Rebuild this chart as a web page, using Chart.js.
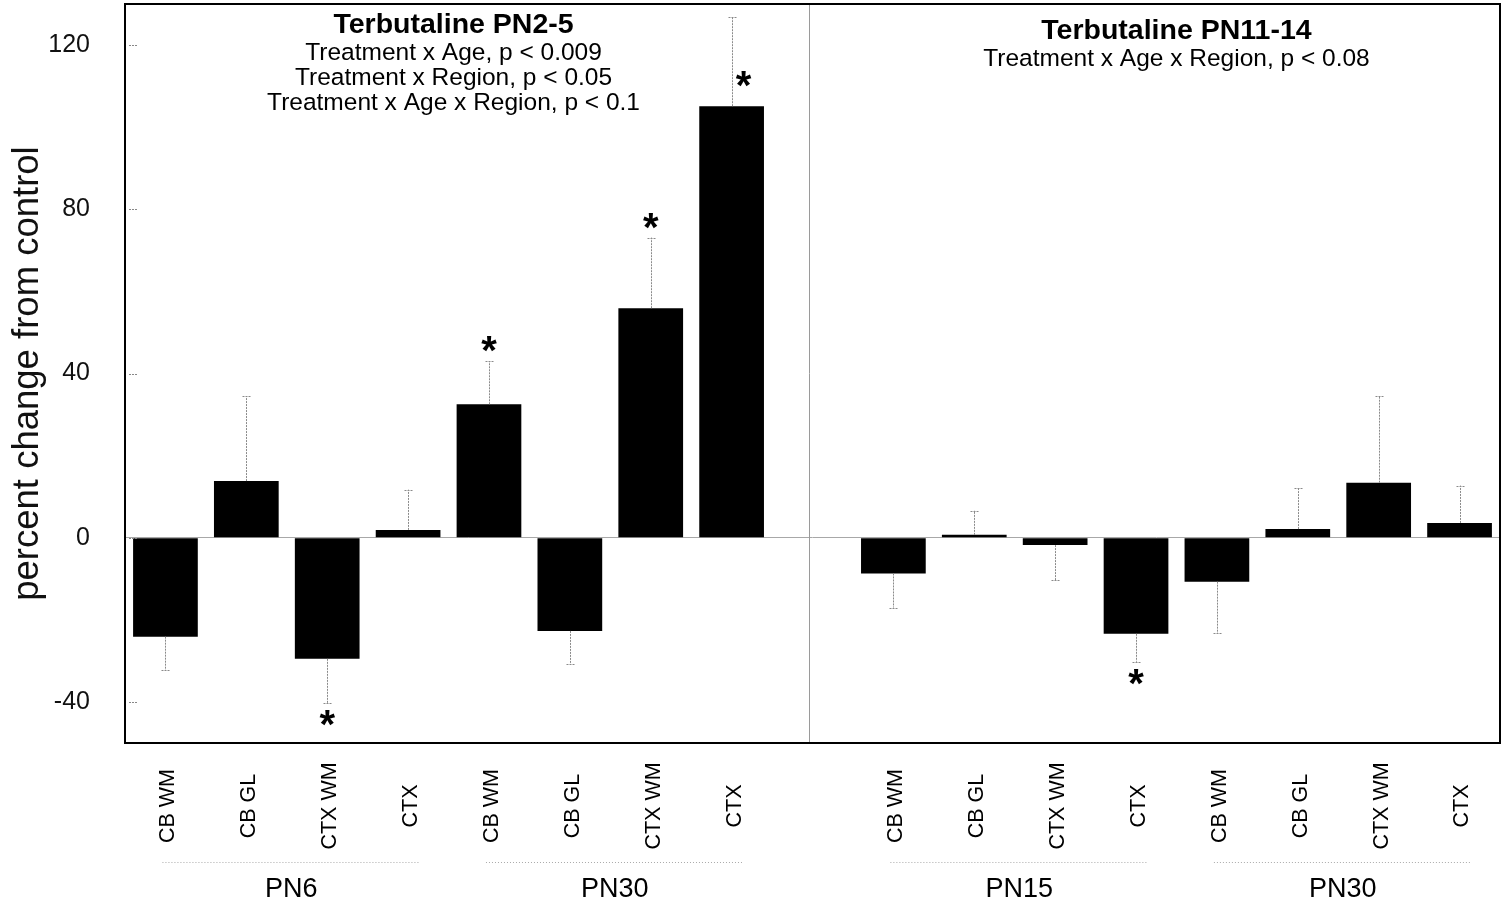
<!DOCTYPE html>
<html>
<head>
<meta charset="utf-8">
<script src="https://cdn.jsdelivr.net/npm/chart.js@4.4.0/dist/chart.umd.min.js"></script>
<style>
  html, body { margin: 0; padding: 0; background: #fff; }
  #wrap { width: 1509px; height: 909px; }
</style>
</head>
<body>
<div id="wrap"><canvas id="chart"></canvas></div>
<script>
// slot 8 is the empty gap between the two panels
const categories = ['CB WM', 'CB GL', 'CTX WM', 'CTX', 'CB WM', 'CB GL', 'CTX WM', 'CTX', '',
                    'CB WM', 'CB GL', 'CTX WM', 'CTX', 'CB WM', 'CB GL', 'CTX WM', 'CTX'];
const values = [-24.1, 13.8, -29.5, 1.9, 32.5, -22.7, 55.9, 105.1, null,
                -8.7, 0.7, -1.8, -23.4, -10.7, 2.1, 13.4, 3.6];
const errors = [8.1, 20.7, 10.8, 9.8, 10.5, 8.1, 17.2, 21.8, null,
                8.3, 5.9, 8.5, 6.8, 12.6, 9.9, 21.1, 9.1];
const yTicks = [-40, 0, 40, 80, 120];

const groupNames = ['PN6', 'PN30', 'PN15', 'PN30'];
const groupFirst = [0, 4, 9, 13];
const groupLast = [3, 7, 12, 16];

const starIdx = [2, 4, 6, 12];   // asterisk past the end of the error bar
const starSideIdx = [7];         // asterisk beside the error bar
const dividerIdx = 8;

const panelTitles = ['Terbutaline PN2-5', 'Terbutaline PN11-14'];
const panelNotes = [
  ['Treatment x Age, p < 0.009', 'Treatment x Region, p < 0.05', 'Treatment x Age x Region, p < 0.1'],
  ['Treatment x Age x Region, p < 0.08']
];
const panelCenter = [[3, 4], [12, 13]];

const FONT = '"Liberation Sans", Arial, Helvetica, sans-serif';
Chart.defaults.font.family = FONT;
Chart.defaults.color = '#111';

const extras = {
  id: 'extras',
  afterDatasetsDraw(chart) {
    const ctx = chart.ctx;
    const x = chart.scales.x, y = chart.scales.y;
    const area = chart.chartArea;

    ctx.save();
    // divider between panels
    ctx.strokeStyle = '#9a9a9a';
    ctx.lineWidth = 1;
    const dx = Math.round(x.getPixelForValue(dividerIdx)) - 3.5;
    ctx.beginPath(); ctx.moveTo(dx, area.top); ctx.lineTo(dx, area.bottom); ctx.stroke();

    // error bars
    ctx.strokeStyle = '#8a8a8a';
    ctx.setLineDash([2, 1]);
    values.forEach((v, i) => {
      if (v === null) return;
      const px = Math.round(x.getPixelForValue(i)) + 0.5;
      const end = v >= 0 ? v + errors[i] : v - errors[i];
      const y0 = y.getPixelForValue(v), y1 = y.getPixelForValue(end);
      ctx.beginPath(); ctx.moveTo(px, y0); ctx.lineTo(px, y1); ctx.stroke();
      ctx.beginPath(); ctx.moveTo(px - 4, Math.round(y1) + 0.5); ctx.lineTo(px + 4, Math.round(y1) + 0.5); ctx.stroke();
    });

    // inner y tick marks
    ctx.strokeStyle = '#888';
    yTicks.forEach(t => {
      const py = Math.round(y.getPixelForValue(t)) + 0.5;
      ctx.beginPath(); ctx.moveTo(area.left + 4, py); ctx.lineTo(area.left + 12, py); ctx.stroke();
    });
    ctx.setLineDash([]);

    // plot frame
    ctx.strokeStyle = '#000';
    ctx.lineWidth = 2;
    ctx.strokeRect(area.left, area.top, area.right - area.left, area.bottom - area.top);

    // asterisks
    ctx.fillStyle = '#000';
    ctx.font = 'bold 40px ' + FONT;
    ctx.textAlign = 'center';
    ctx.textBaseline = 'alphabetic';
    const m = ctx.measureText('*');
    const mid = (m.actualBoundingBoxAscent - m.actualBoundingBoxDescent) / 2;
    starIdx.forEach(i => {
      const v = values[i];
      const end = v >= 0 ? v + errors[i] : v - errors[i];
      const cy = y.getPixelForValue(end) + (v >= 0 ? -17 : 15);
      ctx.fillText('*', x.getPixelForValue(i), cy + mid);
    });
    starSideIdx.forEach(i => {
      const cy = y.getPixelForValue(values[i]) - 27;
      ctx.fillText('*', x.getPixelForValue(i) + 12, cy + mid);
    });

    // panel titles
    panelTitles.forEach((t, p) => {
      const cx = (x.getPixelForValue(panelCenter[p][0]) + x.getPixelForValue(panelCenter[p][1])) / 2 + (p === 0 ? 5 : 0);
      const base = p === 0 ? 33 : 39;
      ctx.font = 'bold 28.5px ' + FONT;
      ctx.fillText(t, cx, base);
      ctx.font = '24.5px ' + FONT;
      panelNotes[p].forEach((line, k) => ctx.fillText(line, cx, base + 27 + k * 25));
    });

    // rotated category labels
    ctx.font = '21.5px ' + FONT;
    ctx.textBaseline = 'middle';
    categories.forEach((c, i) => {
      if (!c) return;
      ctx.save();
      ctx.translate(x.getPixelForValue(i) + 3, 806);
      ctx.rotate(-Math.PI / 2);
      ctx.fillText(c, 0, 0);
      ctx.restore();
    });

    // group underlines and names
    ctx.font = '27px ' + FONT;
    groupNames.forEach((g, k) => {
      const a = x.getPixelForValue(groupFirst[k]) - 3;
      const b = x.getPixelForValue(groupLast[k]) + 12;
      ctx.strokeStyle = '#aaa';
      ctx.lineWidth = 1;
      ctx.setLineDash([1, 2]);
      ctx.beginPath(); ctx.moveTo(a, 862.5); ctx.lineTo(b, 862.5); ctx.stroke();
      ctx.setLineDash([]);
      ctx.fillText(g, (a + b) / 2, 890);
    });
    ctx.restore();
  }
};

new Chart(document.getElementById('chart'), {
  type: 'bar',
  data: {
    labels: categories,
    datasets: [{
      data: values,
      backgroundColor: '#000',
      borderWidth: 0,
      barPercentage: 0.8,
      categoryPercentage: 1.0
    }]
  },
  plugins: [extras],
  options: {
    responsive: true,
    maintainAspectRatio: false,
    animation: false,
    layout: { padding: { top: 4, right: 9, bottom: 0, left: 0 } },
    plugins: { legend: { display: false }, tooltip: { enabled: false } },
    scales: {
      x: {
        grid: { display: false },
        border: { display: false },
        ticks: { display: false },
        afterFit(s) { s.height = 166; }
      },
      y: {
        min: -50,
        max: 130,
        afterBuildTicks(s) { s.ticks = yTicks.map(v => ({ value: v })); },
        afterFit(s) { s.width = 125; s.paddingTop = 0; s.paddingBottom = 0; },
        border: { display: false },
        grid: {
          drawTicks: false,
          color: c => (c.tick && c.tick.value === 0 ? '#a8a8a8' : 'rgba(0,0,0,0)'),
          lineWidth: 1
        },
        ticks: { padding: 35, font: { size: 25 }, color: '#111' },
        title: {
          display: true,
          text: 'percent change from control',
          font: { size: 36.5 },
          color: '#111',
          padding: { top: 6, bottom: 0 }
        }
      }
    }
  }
});
</script>
</body>
</html>
